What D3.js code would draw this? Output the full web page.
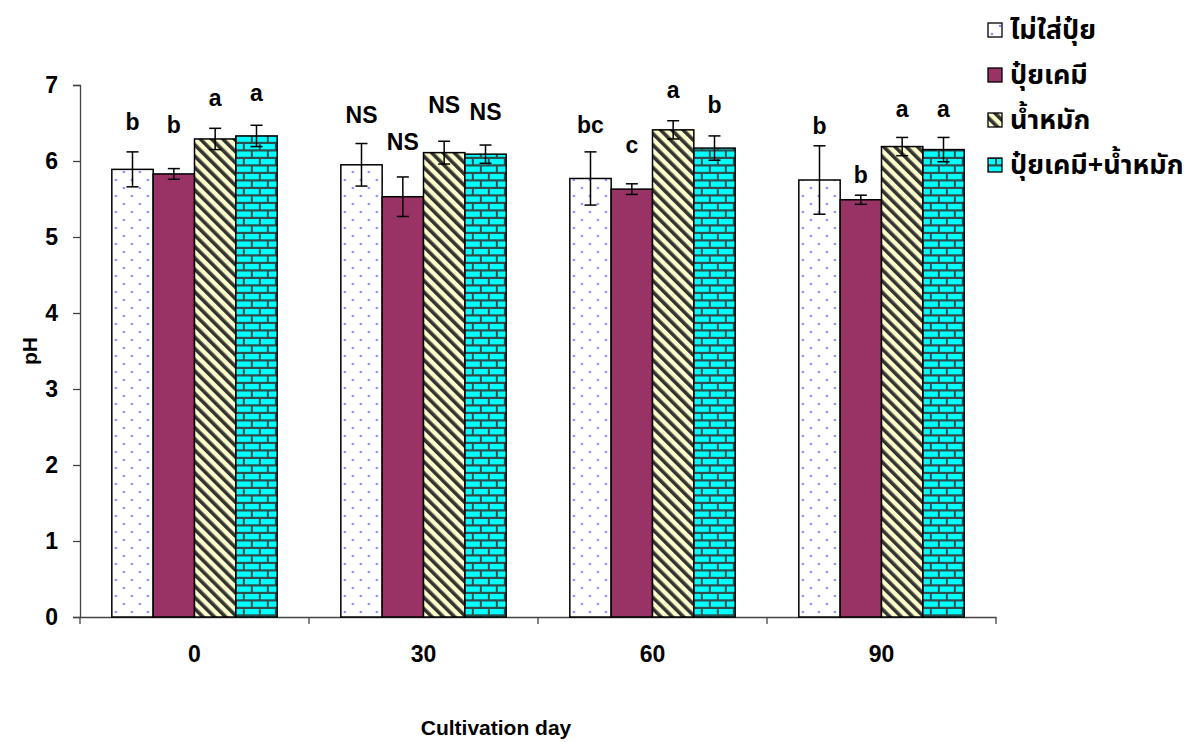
<!DOCTYPE html>
<html>
<head>
<meta charset="utf-8">
<script src="https://cdn.jsdelivr.net/npm/d3@7"></script>
<style>
  body { margin: 0; background: #fff; }
  text { font-family: "Liberation Sans", Arial, sans-serif; font-weight: bold; }
  .thai { font-family: Tahoma, "Noto Sans Thai", "Noto Sans", "DejaVu Sans", sans-serif; }
</style>
</head>
<body>
<div id="chart"></div>
<script>
// pH by cultivation day, four treatments
const days = ["0", "30", "60", "90"];
const treatments = ["ไม่ใส่ปุ๋ย", "ปุ๋ยเคมี", "น้ำหมัก", "ปุ๋ยเคมี+น้ำหมัก"];

// mean pH per day, one array per treatment
const noFert   = [5.89, 5.95, 5.77, 5.75];
const chemFert = [5.83, 5.53, 5.63, 5.49];
const bioFert  = [6.29, 6.11, 6.41, 6.19];
const chemBio  = [6.33, 6.09, 6.17, 6.15];

// error (+/-)
const errNoFert   = [0.23, 0.28, 0.35, 0.45];
const errChemFert = [0.07, 0.26, 0.07, 0.06];
const errBioFert  = [0.14, 0.15, 0.12, 0.12];
const errChemBio  = [0.14, 0.12, 0.16, 0.16];

// significance letters and their heights (pH units)
const sigNoFert   = ["b", "NS", "bc", "b"];
const sigChemFert = ["b", "NS", "c", "b"];
const sigBioFert  = ["a", "NS", "a", "a"];
const sigChemBio  = ["a", "NS", "b", "a"];
const sigYNoFert   = [6.51, 6.60, 6.47, 6.46];
const sigYChemFert = [6.47, 6.25, 6.21, 5.82];
const sigYBioFert  = [6.83, 6.74, 6.94, 6.68];
const sigYChemBio  = [6.90, 6.65, 6.74, 6.68];

const yTicks = [0, 1, 2, 3, 4, 5, 6, 7];

const values = [noFert, chemFert, bioFert, chemBio];
const errs = [errNoFert, errChemFert, errBioFert, errChemBio];
const sigs = [sigNoFert, sigChemFert, sigBioFert, sigChemBio];
const sigYs = [sigYNoFert, sigYChemFert, sigYBioFert, sigYChemBio];

const data = [];
days.forEach((d, i) => {
  treatments.forEach((t, j) => {
    data.push({day: d, trt: t, idx: j, v: values[j][i], e: errs[j][i], sig: sigs[j][i], sy: sigYs[j][i]});
  });
});

const width = 1186, height = 742;
const margin = {top: 85, right: 190, bottom: 125, left: 80};

const svg = d3.select("#chart").append("svg")
  .attr("width", width)
  .attr("height", height);

// patterns
const defs = svg.append("defs");
const dots = defs.append("pattern").attr("id", "p0")
  .attr("patternUnits", "userSpaceOnUse").attr("width", 16).attr("height", 16);
dots.append("rect").attr("width", 16).attr("height", 16).attr("fill", "#fff");
dots.append("circle").attr("cx", 4).attr("cy", 4).attr("r", 1.3).attr("fill", "#9090ff");
dots.append("circle").attr("cx", 12).attr("cy", 12).attr("r", 1.3).attr("fill", "#9090ff");

const stripes = defs.append("pattern").attr("id", "p2")
  .attr("patternUnits", "userSpaceOnUse").attr("width", 8).attr("height", 8)
  .attr("patternTransform", "rotate(-45)");
stripes.append("rect").attr("width", 8).attr("height", 8).attr("fill", "#ffffcc");
stripes.append("rect").attr("x", 0).attr("width", 3.6).attr("height", 8).attr("fill", "#333");

const bricks = defs.append("pattern").attr("id", "p3")
  .attr("patternUnits", "userSpaceOnUse").attr("width", 16).attr("height", 15);
bricks.append("rect").attr("width", 16).attr("height", 15).attr("fill", "#2e4d4d");
bricks.append("rect").attr("x", 1).attr("y", 1.5).attr("width", 14).attr("height", 5.3).attr("fill", "#00ffff");
bricks.append("rect").attr("x", -7).attr("y", 9).attr("width", 14).attr("height", 5.3).attr("fill", "#00ffff");
bricks.append("rect").attr("x", 9).attr("y", 9).attr("width", 14).attr("height", 5.3).attr("fill", "#00ffff");

const fills = ["url(#p0)", "#993366", "url(#p2)", "url(#p3)"];

const x0 = d3.scaleBand().domain(days)
  .range([margin.left, width - margin.right]);
const x1 = d3.scaleBand().domain(d3.range(treatments.length))
  .range([0, x0.bandwidth()]).paddingOuter(0.77);
const y = d3.scaleLinear().domain([0, 7])
  .range([height - margin.bottom, margin.top]);

// axes
const yAxis = svg.append("g")
  .attr("transform", `translate(${margin.left},0)`)
  .call(d3.axisLeft(y).tickValues(yTicks).tickSize(7).tickPadding(15).tickFormat(d3.format("d")));
yAxis.selectAll("text").attr("font-size", 23).attr("fill", "#000");
yAxis.select(".domain").attr("stroke", "#444").attr("stroke-width", 1.3);
yAxis.selectAll(".tick line").attr("stroke", "#444").attr("stroke-width", 1.3);

const xAxis = svg.append("g")
  .attr("transform", `translate(0,${y(0)})`)
  .call(d3.axisBottom(x0).tickSize(0).tickPadding(29));
xAxis.selectAll("text").attr("font-size", 23).attr("fill", "#000");
xAxis.select(".domain").attr("stroke", "#444").attr("stroke-width", 1.3);
// category separator ticks
xAxis.selectAll(".sep")
  .data([days[0]].concat(days))
  .join("line")
  .attr("class", "sep")
  .attr("x1", (d, i) => i === 0 ? x0(d) : x0(d) + x0.bandwidth())
  .attr("x2", (d, i) => i === 0 ? x0(d) : x0(d) + x0.bandwidth())
  .attr("y1", 0).attr("y2", 7)
  .attr("stroke", "#444").attr("stroke-width", 1.3);

// bars
const groups = svg.append("g").selectAll("g")
  .data(data)
  .join("g")
  .attr("transform", d => `translate(${x0(d.day) + x1(d.idx)},0)`);

groups.append("rect")
  .attr("y", d => y(d.v))
  .attr("width", x1.bandwidth())
  .attr("height", d => y(0) - y(d.v))
  .attr("fill", d => fills[d.idx])
  .attr("stroke", "#000")
  .attr("stroke-width", 1.5);

const cx = x1.bandwidth() / 2;
groups.append("line")
  .attr("x1", cx).attr("x2", cx)
  .attr("y1", d => y(d.v + d.e)).attr("y2", d => y(d.v - d.e))
  .attr("stroke", "#000").attr("stroke-width", 1.5);
groups.append("line")
  .attr("x1", cx - 6).attr("x2", cx + 6)
  .attr("y1", d => y(d.v + d.e)).attr("y2", d => y(d.v + d.e))
  .attr("stroke", "#000").attr("stroke-width", 1.5);
groups.append("line")
  .attr("x1", cx - 6).attr("x2", cx + 6)
  .attr("y1", d => y(d.v - d.e)).attr("y2", d => y(d.v - d.e))
  .attr("stroke", "#000").attr("stroke-width", 1.5);

groups.append("text")
  .attr("x", cx)
  .attr("y", d => y(d.sy))
  .attr("dy", "0.35em")
  .attr("text-anchor", "middle")
  .attr("font-size", 23)
  .text(d => d.sig);

// axis titles
svg.append("text")
  .attr("transform", `translate(30,${(y(0) + y(7)) / 2}) rotate(-90)`)
  .attr("text-anchor", "middle")
  .attr("dy", "0.35em")
  .attr("font-size", 21)
  .text("pH");

svg.append("text")
  .attr("x", 496).attr("y", 728)
  .attr("dy", "0.35em")
  .attr("text-anchor", "middle")
  .attr("font-size", 21)
  .text("Cultivation day");

// legend
const legend = svg.append("g").attr("transform", "translate(988,30)");
const li = legend.selectAll("g")
  .data(treatments)
  .join("g")
  .attr("transform", (d, i) => `translate(0,${i * 45})`);
li.append("rect")
  .attr("x", 0).attr("y", -7)
  .attr("width", 14).attr("height", 14)
  .attr("fill", (d, i) => fills[i])
  .attr("stroke", "#000").attr("stroke-width", 1.3);
li.append("text")
  .attr("class", "thai")
  .attr("x", 22)
  .attr("dy", "0.35em")
  .attr("font-size", 27)
  .text(d => d);
</script>
</body>
</html>
